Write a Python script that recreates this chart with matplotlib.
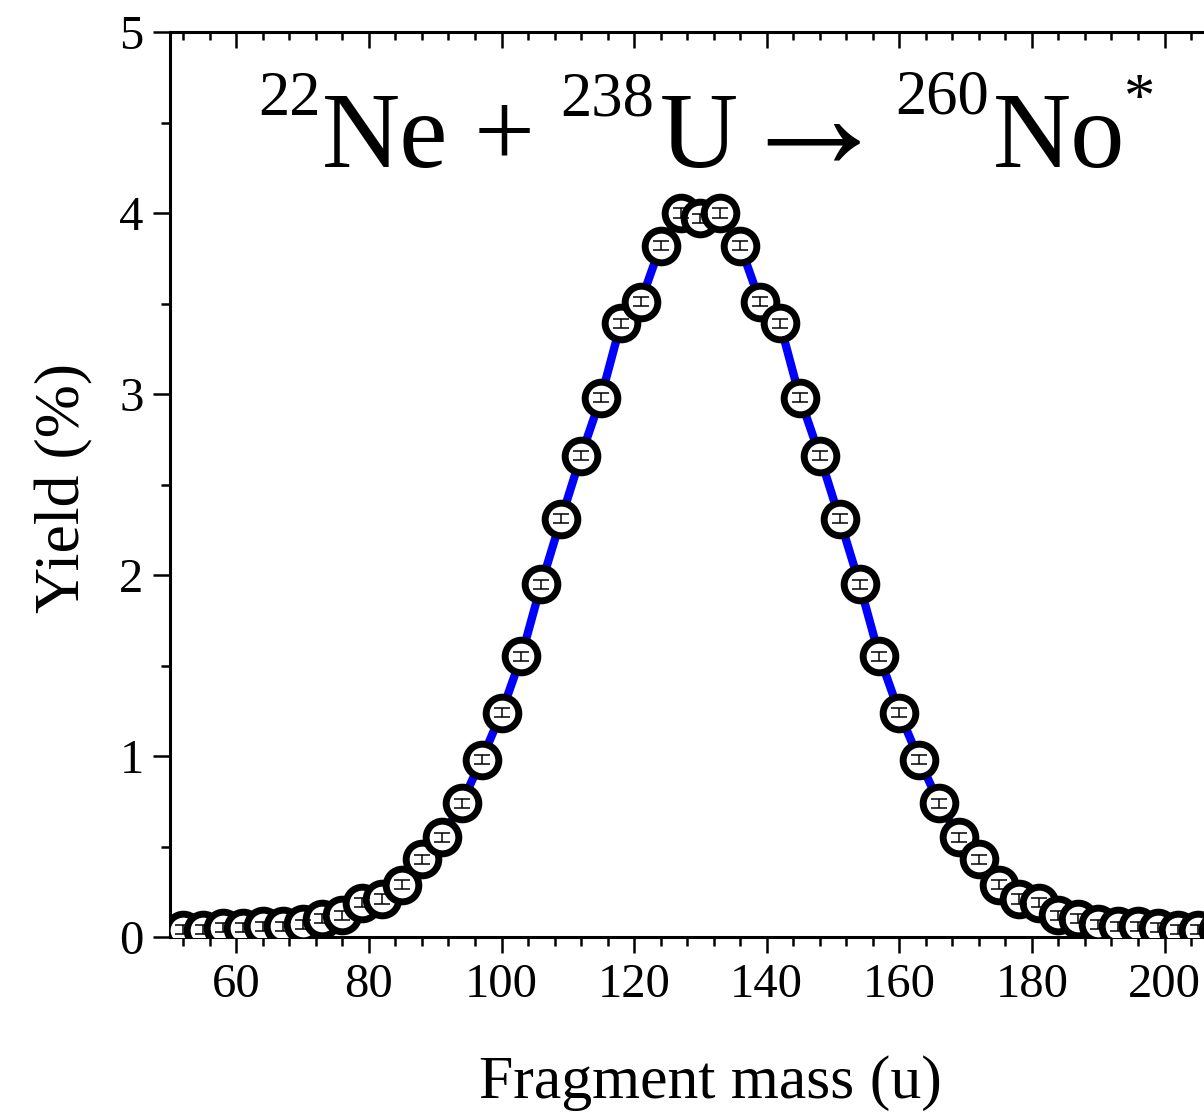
#!/usr/bin/env python3

import numpy as np
import matplotlib
matplotlib.use("Agg")
import matplotlib.pyplot as plt
from matplotlib.ticker import MultipleLocator

plt.rcParams['font.family'] = ['Liberation Serif', 'DejaVu Serif']

# fragment masses (u) and yields (%)
mass = [52, 55, 58, 61, 64, 67, 70, 73, 76, 79, 82, 85, 88, 91, 94, 97, 100,
        103, 106, 109, 112, 115, 118, 121, 124, 127, 130, 133, 136, 139, 142,
        145, 148, 151, 154, 157, 160, 163, 166, 169, 172, 175, 178, 181, 184,
        187, 190, 193, 196, 199, 202, 205, 208]
yld = [0.04, 0.04, 0.05, 0.05, 0.06, 0.06, 0.07, 0.10, 0.12, 0.19, 0.21, 0.29,
       0.43, 0.55, 0.74, 0.98, 1.24, 1.55, 1.95, 2.31, 2.66, 2.98, 3.39, 3.51,
       3.82, 4.00, 3.97, 4.00, 3.82, 3.51, 3.39, 2.98, 2.66, 2.31, 1.95, 1.55,
       1.24, 0.98, 0.74, 0.55, 0.43, 0.29, 0.21, 0.19, 0.12, 0.10, 0.07, 0.06,
       0.06, 0.05, 0.04, 0.04, 0.04]
err = [0.025] * len(mass)

W, H = 1204, 1113
fig = plt.figure(figsize=(W / 100, H / 100), dpi=100)

# axes: left spine at x=170px, y=0 at 937px, y=5 at 32px; right side runs off the picture
px_per_u = 6.63
ax = fig.add_axes([170 / W, (H - 937) / H, 160 * px_per_u / W, (937 - 32) / H])

ax.plot(mass, yld, color='#0000ff', lw=6, zorder=2)
ax.plot(mass, yld, ls='none', marker='o', ms=23.5, mfc='white', mec='black',
        mew=5, zorder=3)
ax.errorbar(mass, yld, yerr=err, fmt='none', ecolor='black', elinewidth=1.1,
            capsize=6, capthick=1.1, zorder=4)

ax.set_xlim(50, 210)
ax.set_ylim(0, 5)
ax.xaxis.set_major_locator(MultipleLocator(20))
ax.xaxis.set_minor_locator(MultipleLocator(4))
ax.yaxis.set_major_locator(MultipleLocator(1))
ax.yaxis.set_minor_locator(MultipleLocator(0.5))

for s in ax.spines.values():
    s.set_linewidth(2.2)

ax.tick_params(axis='x', which='both', bottom=True, top=True, direction='out',
               labelsize=35, width=1.8, pad=7)
ax.tick_params(axis='x', which='major', length=11.5)
ax.tick_params(axis='x', which='minor', length=6.5)
ax.tick_params(axis='y', which='both', left=True, right=True, direction='out',
               labelsize=35, width=1.8, pad=7)
ax.tick_params(axis='y', which='major', length=12)
ax.tick_params(axis='y', which='minor', length=6.5)
# ticks on the top spine point into the plot
for t in ax.xaxis.get_major_ticks():
    t.tick2line.set_marker(3)
    t.tick2line.set_markersize(11.5)
for t in ax.xaxis.get_minor_ticks():
    t.tick2line.set_marker(3)
    t.tick2line.set_markersize(6)

fig.text(710 / W, 1 - 1098 / H, 'Fragment mass (u)', fontsize=44.5,
         ha='center', va='baseline')
fig.text(35 / W, 1 - 488 / H, 'Yield (%)', fontsize=46, rotation=90,
         ha='left', va='center')

# reaction label, placed piece by piece (left x, baseline y in pixels, size)
big, small = 78, 45
pieces = [('22', 258, 115, small), ('Ne', 322, 167, big),
          ('+', 474, 166, big), ('238', 560, 115, small),
          ('U', 660, 167, big), ('\u2192', 735, 167, 112),
          ('260', 895, 113, small), ('No', 993, 167, big),
          ('*', 1124, 117, small)]
for txt, x, y, fs in pieces:
    fig.text(x / W, 1 - y / H, txt, fontsize=fs, ha='left', va='baseline')

fig.savefig('out.png', dpi=100)
